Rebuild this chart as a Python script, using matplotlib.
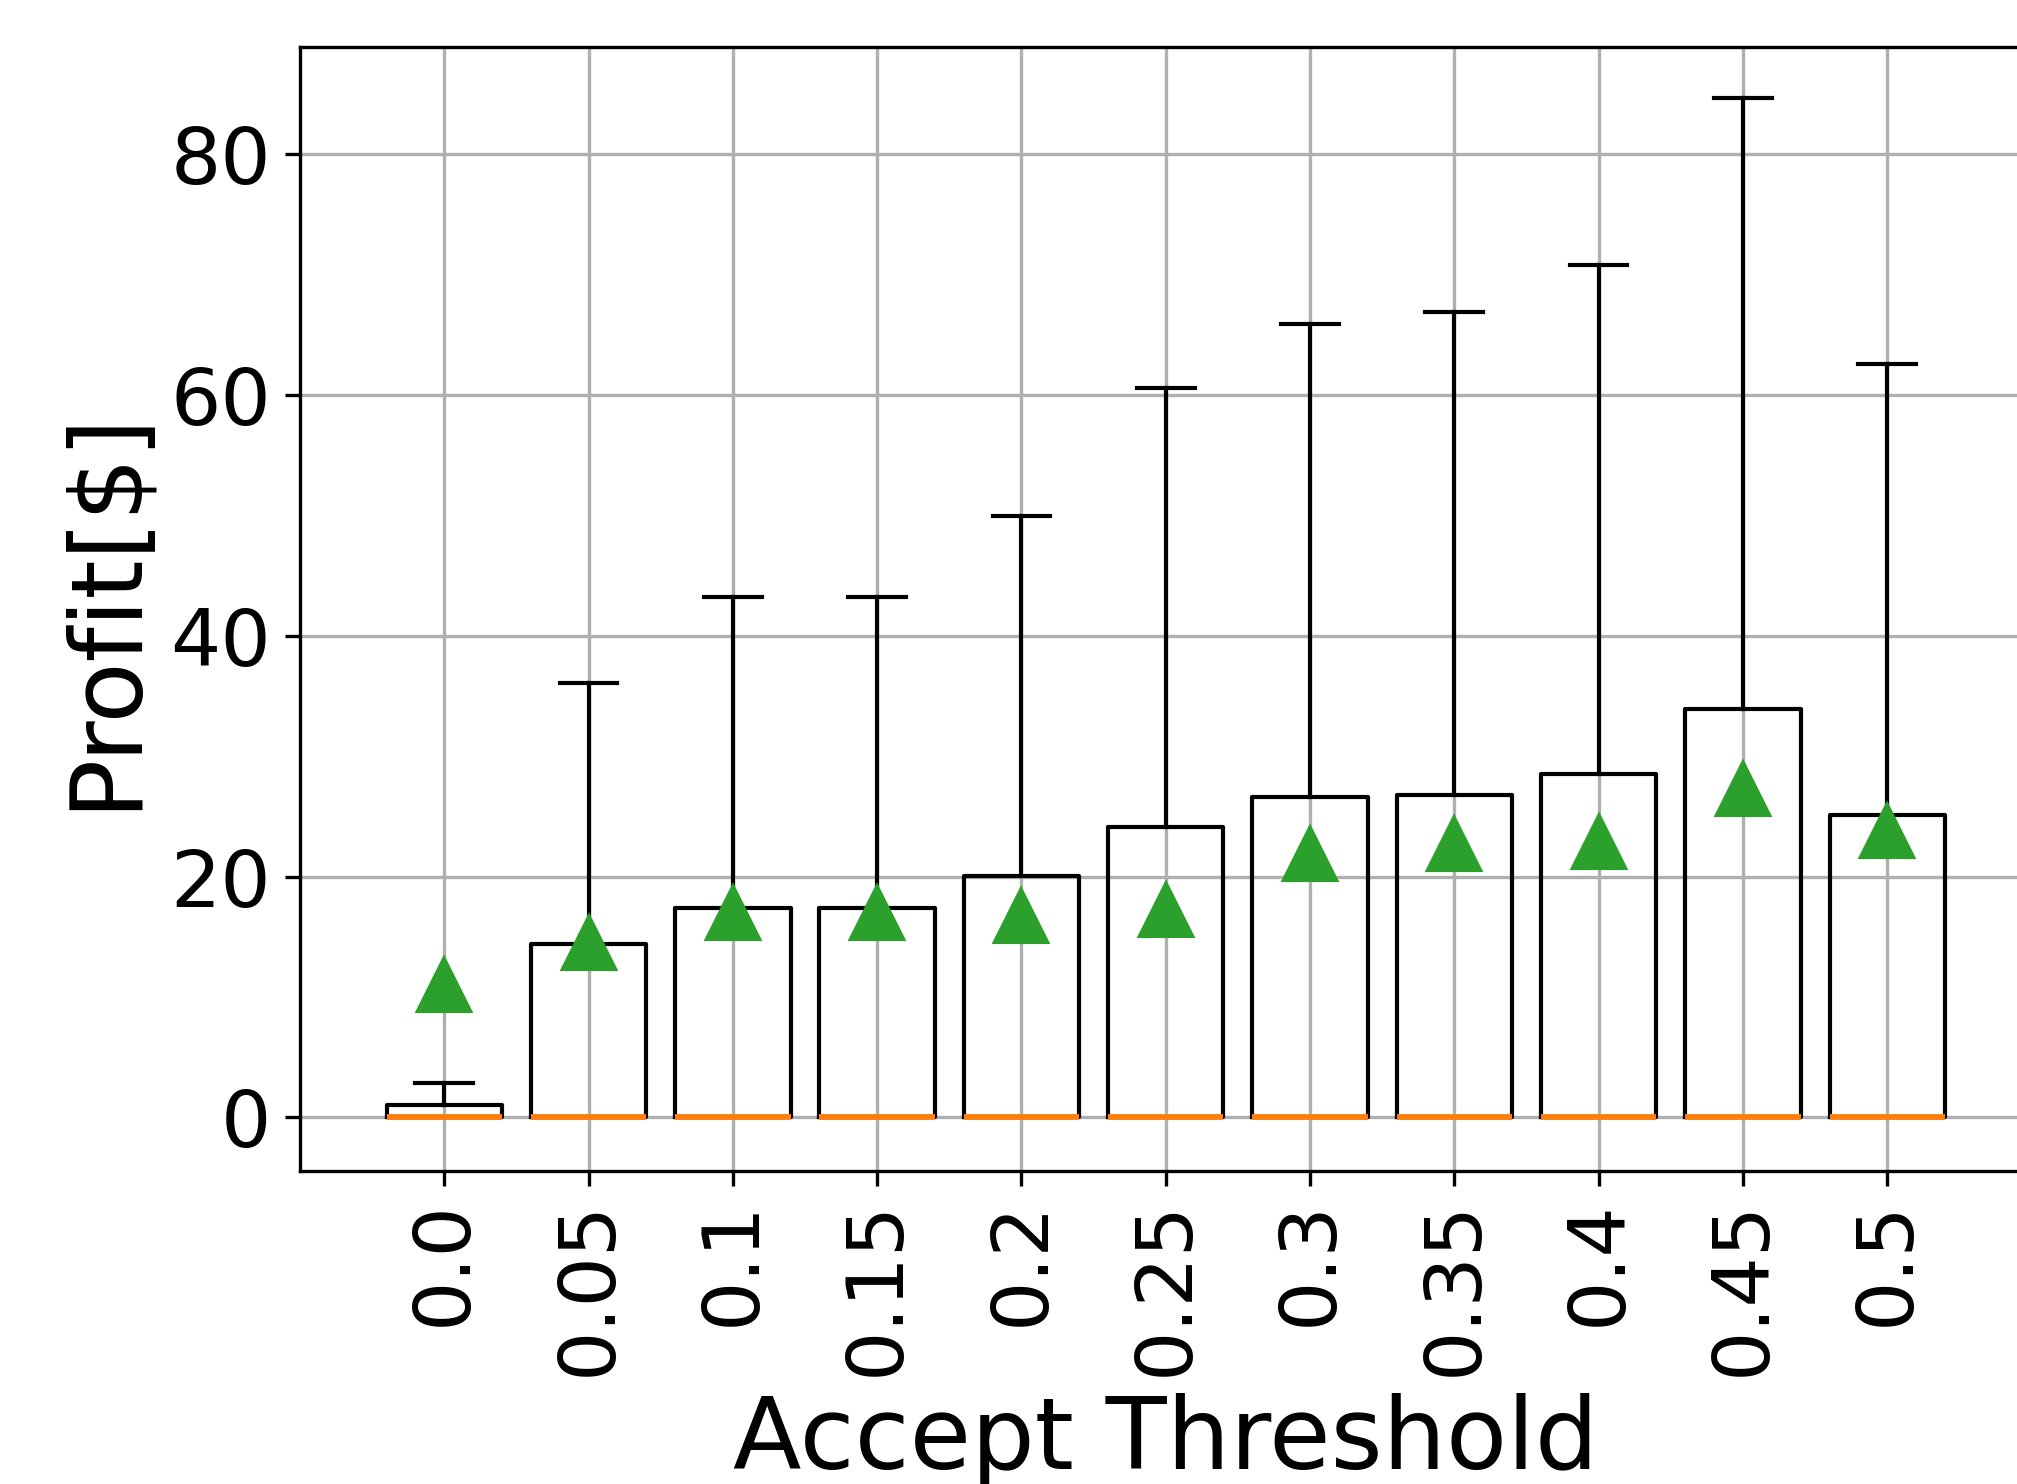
import matplotlib
matplotlib.use("Agg")
import matplotlib.pyplot as plt

# Data
thresholds = ["0.0", "0.05", "0.1", "0.15", "0.2", "0.25", "0.3", "0.35", "0.4", "0.45", "0.5"]
q1_values = [0, 0, 0, 0, 0, 0, 0, 0, 0, 0, 0]
median_values = [0, 0, 0, 0, 0, 0, 0, 0, 0, 0, 0]
q3_values = [1.0, 14.4, 17.4, 17.4, 20.1, 24.1, 26.6, 26.8, 28.5, 33.9, 25.1]
whisker_low = [0, 0, 0, 0, 0, 0, 0, 0, 0, 0, 0]
whisker_high = [2.9, 36.1, 43.2, 43.2, 50.0, 60.6, 65.9, 66.9, 70.8, 84.7, 62.6]
mean_values = [11.0, 14.5, 17.0, 17.0, 16.7, 17.2, 21.9, 22.7, 22.9, 27.3, 23.8]

stats = []
for lbl, q1, med, q3, lo, hi, mu in zip(thresholds, q1_values, median_values, q3_values,
                                         whisker_low, whisker_high, mean_values):
    stats.append(dict(label=lbl, q1=q1, med=med, q3=q3, whislo=lo, whishi=hi,
                      mean=mu, fliers=[]))

fig = plt.figure(figsize=(2017 / 300, 1484 / 300), dpi=300)
ax = fig.add_axes([0.1487, 0.2109, 0.8585, 0.7576])

ax.bxp(stats, showmeans=True, showfliers=False, widths=0.8,
       medianprops=dict(color='C1', linewidth=1.4),
       meanprops=dict(marker='^', markerfacecolor='C2', markeredgecolor='C2', markersize=12.5))

ax.grid(True)
ax.set_xlim(0, 12)
ax.set_ylim(-4.45, 88.95)
ax.set_yticks([0, 20, 40, 60, 80])
ax.tick_params(axis='both', labelsize=19)
ax.tick_params(axis='x', labelrotation=90)
ax.set_xlabel("Accept Threshold", fontsize=24)
ax.set_ylabel("Profit[$]", fontsize=24)

fig.savefig("out.png", dpi=300)
